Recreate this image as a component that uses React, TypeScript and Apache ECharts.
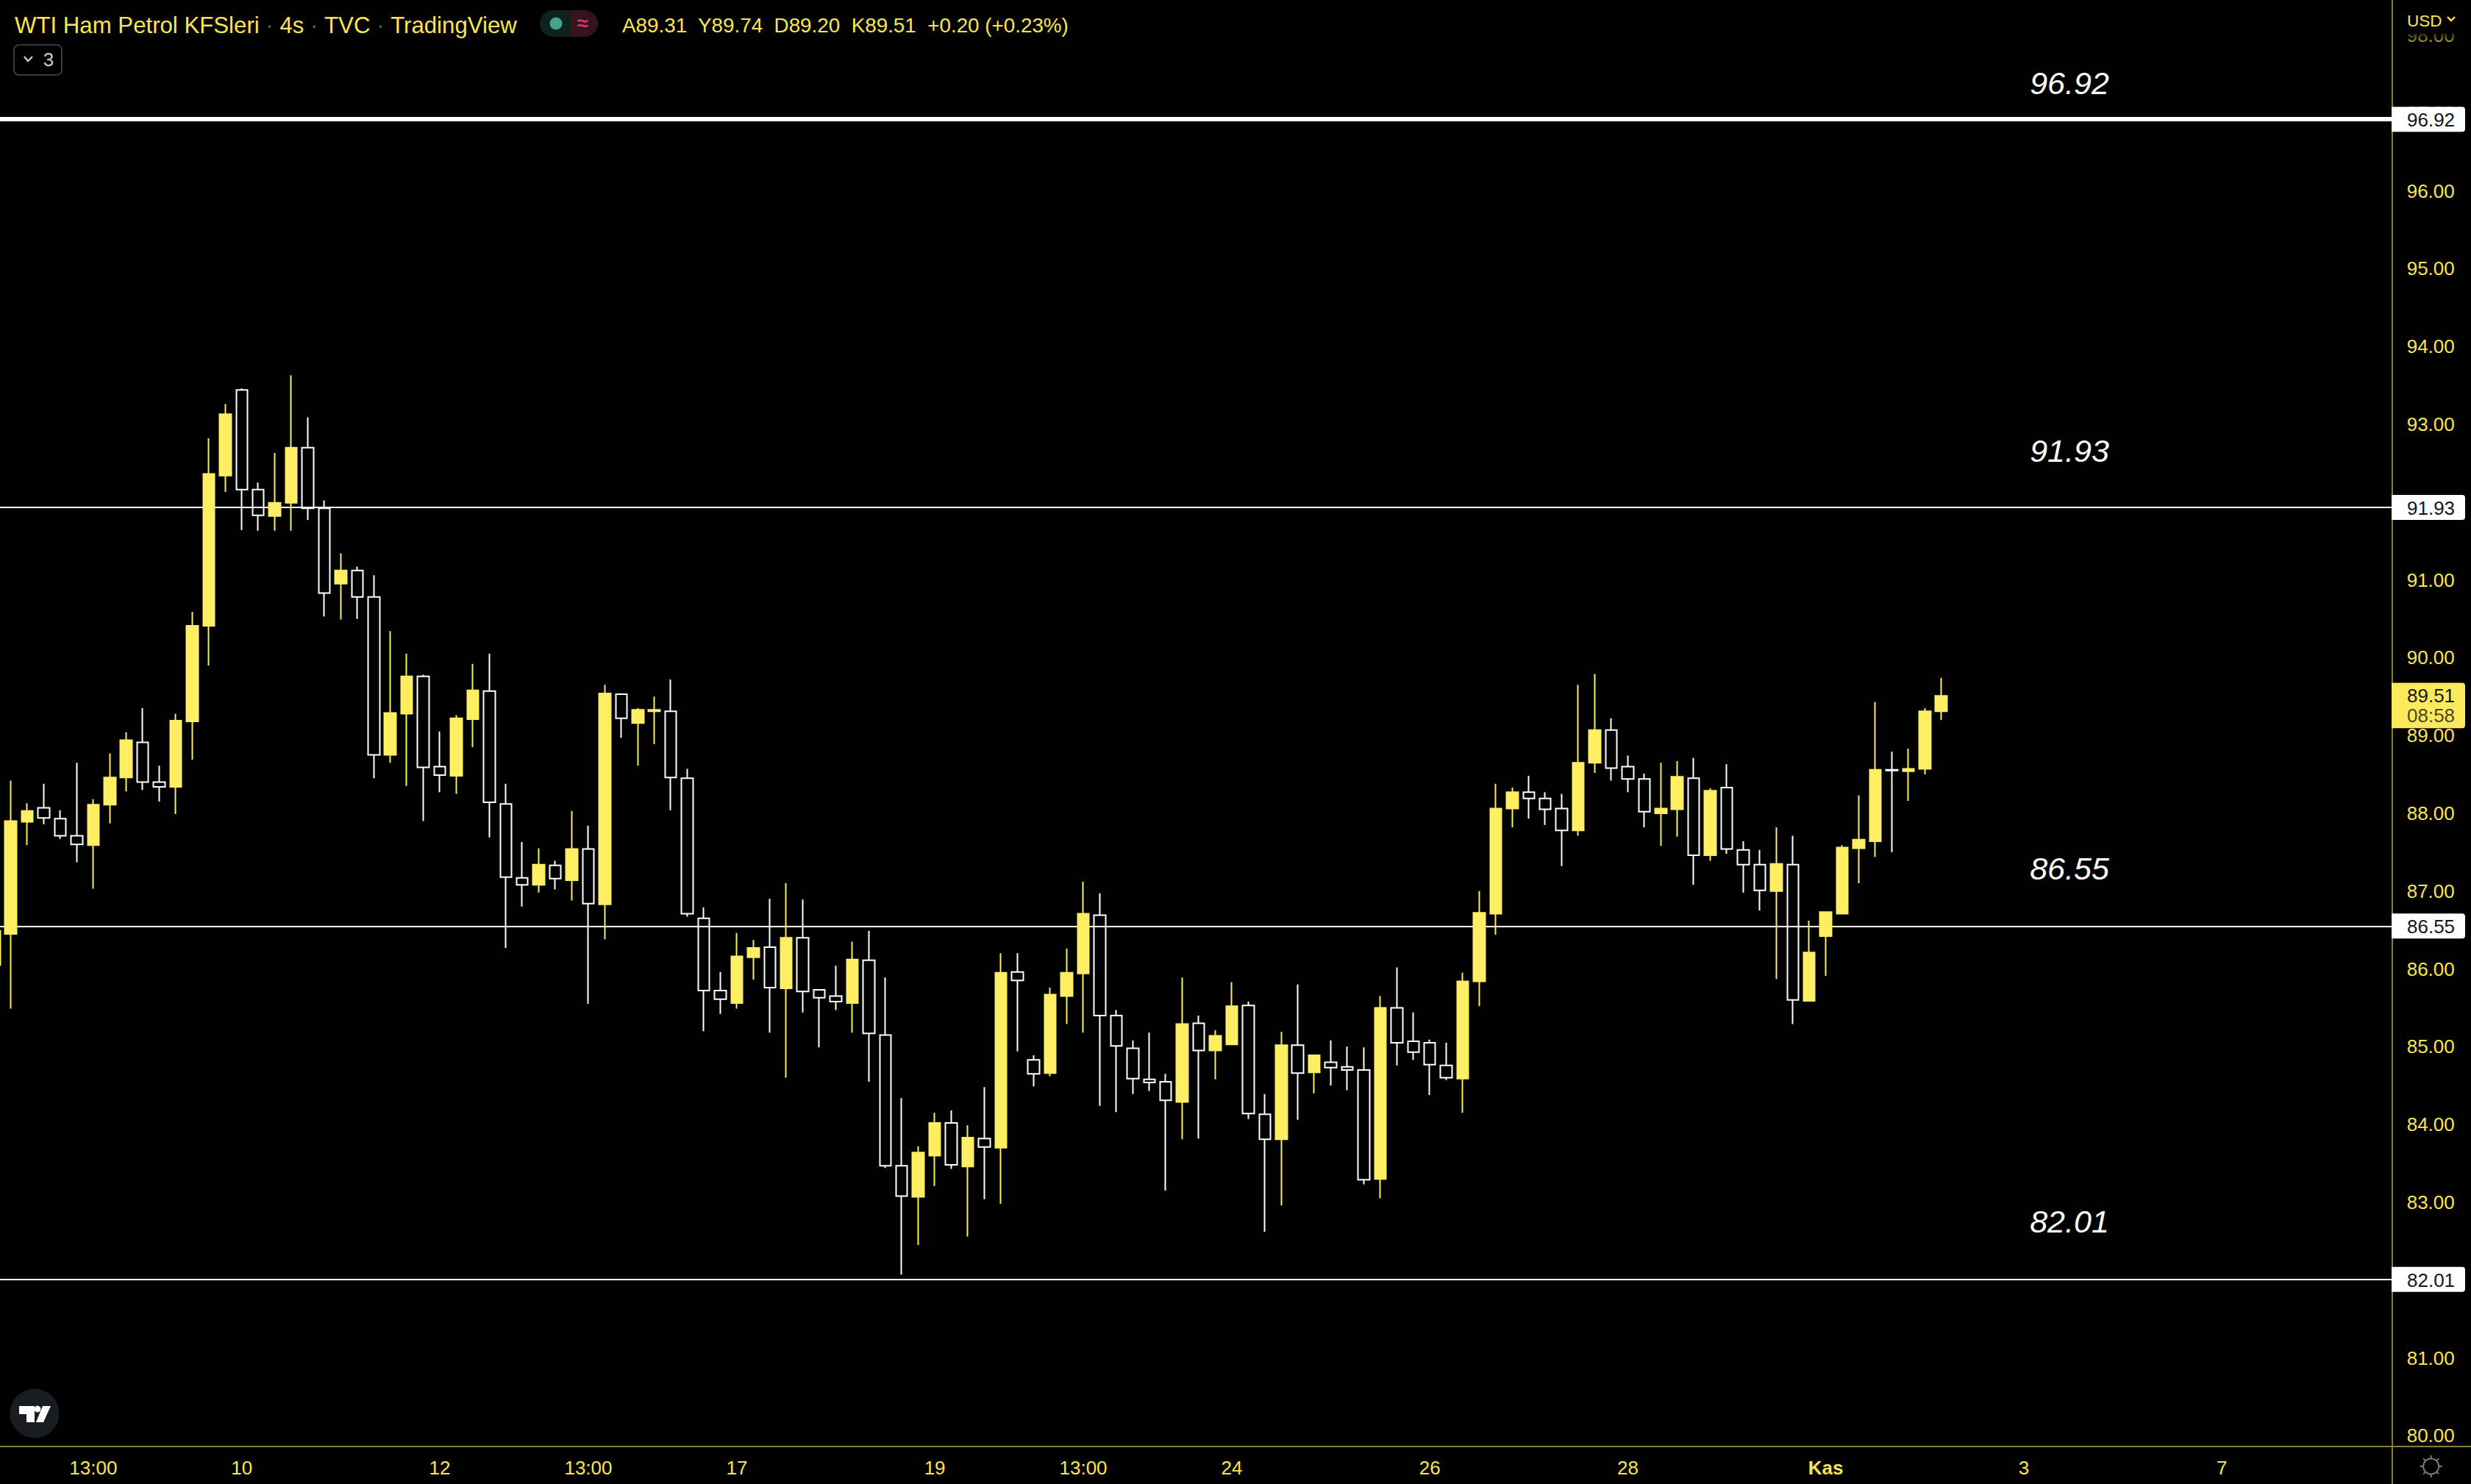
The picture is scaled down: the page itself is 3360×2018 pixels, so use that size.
import React, { useEffect, useRef } from "react";
import * as echarts from "echarts";

const opens = [86.05,86.45,87.89,88.07,87.93,87.71,87.59,88.11,88.46,88.91,88.40,88.34,89.18,90.41,92.34,93.44,92.16,91.82,91.99,92.70,91.92,90.95,91.12,90.78,88.75,89.28,89.76,88.60,88.48,89.21,89.57,88.12,
87.17,87.08,87.33,87.14,87.54,86.83,89.53,89.16,89.31,89.31,88.45,86.65,85.72,85.56,86.15,86.28,85.75,86.40,85.73,85.65,85.56,86.11,85.15,83.47,83.07,83.60,84.02,83.46,83.82,
83.70,85.96,84.83,84.66,85.65,85.94,86.69,85.40,84.98,84.58,84.55,84.29,85.30,84.95,85.03,85.53,84.13,83.81,85.02,84.67,84.80,84.74,84.70,83.30,85.50,85.07,85.05,84.76,84.59,
85.84,86.71,88.06,88.27,88.19,88.06,87.78,88.65,89.07,88.60,88.44,88.00,88.05,88.45,87.46,88.33,87.53,87.34,87.00,87.34,85.59,86.42,86.71,87.55,87.64,88.56,88.54,88.57,89.31];
const closes = [86.49,87.90,88.03,87.94,87.71,87.60,88.11,88.46,88.94,88.40,88.34,89.19,90.41,92.36,93.13,92.16,91.83,91.99,92.70,91.92,90.83,91.12,90.78,88.75,89.29,89.76,88.59,88.49,89.22,89.58,88.14,87.18,
87.08,87.34,87.16,87.54,86.84,89.54,89.22,89.33,89.33,88.46,86.71,85.72,85.61,86.16,86.27,85.76,86.40,85.71,85.63,85.58,86.12,85.17,83.47,83.08,83.64,84.02,83.48,83.83,83.71,
85.95,85.85,84.65,85.67,85.95,86.71,85.40,85.01,84.59,84.54,84.31,85.29,84.95,85.14,85.52,84.14,83.81,85.02,84.66,84.89,84.73,84.70,83.29,85.50,85.05,84.93,84.77,84.60,85.84,
86.72,88.06,88.27,88.19,88.05,87.78,88.65,89.07,88.58,88.44,88.02,88.06,88.47,87.46,88.29,87.54,87.34,87.01,87.35,85.60,86.21,86.73,87.56,87.66,88.56,88.55,88.57,89.31,89.51];
const lows = [85.90,85.49,87.59,87.86,87.67,87.37,87.03,87.87,88.28,88.30,88.15,87.99,88.69,89.90,92.13,91.64,91.63,91.63,91.63,91.77,90.53,90.49,90.50,88.45,88.65,88.35,87.90,88.27,88.25,88.85,87.69,86.27,
86.80,86.98,87.02,86.88,85.55,86.38,88.97,88.61,88.89,88.04,86.67,85.20,85.42,85.49,85.86,85.18,84.60,85.44,84.99,85.47,85.18,84.55,83.44,82.07,82.45,83.21,83.43,82.56,83.04,
82.98,84.94,84.49,84.62,85.29,85.18,84.24,84.16,84.39,84.43,83.15,83.81,83.82,84.58,85.03,84.07,82.62,82.96,84.06,84.40,84.50,84.44,83.23,83.05,84.76,84.83,84.38,84.57,84.15,
85.52,86.44,87.82,87.93,87.85,87.32,87.71,88.52,88.42,88.27,87.82,87.58,87.70,87.08,87.39,87.48,86.98,86.75,85.87,85.29,85.59,85.91,86.71,87.10,87.44,87.50,88.16,88.50,89.20];
const highs = [86.80,88.42,88.13,88.38,88.04,88.65,88.18,88.77,89.04,89.35,88.61,89.28,90.59,92.82,93.26,93.46,92.25,92.63,93.63,93.09,92.02,91.34,91.17,91.06,90.34,90.05,89.78,89.05,89.26,89.92,90.05,88.38,
87.63,87.55,87.39,88.03,87.84,89.65,89.54,89.35,89.50,89.72,88.57,86.79,85.96,86.46,86.37,86.90,87.10,86.89,85.73,86.04,86.35,86.49,85.89,84.34,83.72,84.15,84.18,83.99,84.48,
86.20,86.20,84.89,85.76,86.26,87.12,86.97,85.47,85.08,85.18,84.65,85.89,85.40,85.21,85.83,85.58,84.39,85.19,85.80,84.89,85.08,85.00,84.99,85.65,86.02,85.44,85.09,85.05,85.95,
87.00,88.38,88.33,88.48,88.27,88.25,89.65,89.79,89.22,88.74,88.51,88.65,88.67,88.71,88.32,88.63,87.64,87.53,87.82,87.71,86.62,86.74,87.59,88.23,89.43,88.79,88.83,89.35,89.74];

const barSlots = 146;
const timeLabels: [number, string][] = [[6,"13:00"],[15,"10"],[27,"12"],[36,"13:00"],[45,"17"],[57,"19"],[66,"13:00"],[75,"24"],[87,"26"],[99,"28"],[111,"Kas"],[123,"3"],[135,"7"]];
const levels = [96.92, 91.93, 86.55, 82.01];
const levelWidths = [6, 2, 2, 2];
const noteGaps = [49, 77, 78, 79];
const lastPrice = 89.51;
const countdown = "08:58";
const titleParts = ["WTI Ham Petrol KFSleri", "4s", "TVC", "TradingView"];
const ohlcText = "A89.31  Y89.74  D89.20  K89.51  +0.20 (+0.23%)";

const YELLOW = "#FDEE62";
const TEXT = "#FBE64E";
const AXIS = "#8A7C35";
const FONT = "'Liberation Sans', Arial, sans-serif";
const pxPerUnit = 105.8;
const pxPerBar = 22.436;

export default function App() {
  const ref = useRef<HTMLDivElement>(null);
  useEffect(() => {
    document.body.style.margin = "0";
    document.body.style.background = "#000";
    const chart = echarts.init(ref.current!, undefined, { renderer: "svg", width: 3360, height: 2018 });
    const categories: string[] = Array.from({ length: barSlots }, () => "");
    timeLabels.forEach(([i, t]) => { categories[i] = t; });
    const candleData = opens.map((o, i) => [o, closes[i], lows[i], highs[i]]);
    chart.setOption({
      animation: false,
      backgroundColor: "#000",
      grid: { left: -18.96, top: -57.9, width: pxPerBar * barSlots, height: pxPerUnit * 20, containLabel: false, outerBoundsMode: "none" },
      xAxis: {
        type: "category",
        data: categories,
        boundaryGap: true,
        offset: -91.1,
        axisLine: { onZero: false, lineStyle: { color: AXIS, width: 2 } },
        axisTick: { show: false },
        splitLine: { show: false },
        axisLabel: {
          interval: (_i: number, v: string) => v !== "",
          color: TEXT,
          fontFamily: FONT,
          fontSize: 26,
          margin: 16,
          formatter: (v: string) => (v === "Kas" ? "{b|Kas}" : v),
          rich: { b: { fontFamily: FONT, fontSize: 26, fontWeight: "bold", color: TEXT } },
        },
      },
      yAxis: {
        type: "value",
        position: "right",
        min: 79,
        max: 99,
        interval: 1,
        offset: -4,
        scale: true,
        axisLine: { show: true, onZero: false, lineStyle: { color: AXIS, width: 2 } },
        axisTick: { show: false },
        splitLine: { show: false },
        axisLabel: { color: TEXT, fontFamily: FONT, fontSize: 26, margin: 20, showMinLabel: false, showMaxLabel: false, formatter: (v: number) => (v === 79 || v === 99 ? "" : v.toFixed(2)) },
      },
      series: [
        {
          type: "candlestick",
          data: candleData,
          barWidth: 16,
          z: 2,
          clip: true,
          itemStyle: { color: YELLOW, color0: "rgba(0,0,0,0)", borderColor: YELLOW, borderColor0: "#fff", borderWidth: 2 },
          markLine: {
            silent: true,
            z: 1,
            symbol: "none",
            label: { show: false },
            data: levels.map((v, i) => ({ yAxis: v, lineStyle: { color: "#fff", width: levelWidths[i], type: "solid" } })),
          },
        },
      ],
    });

    const py = (v: number) => chart.convertToPixel({ yAxisIndex: 0 }, v) as number;
    const t = (text: string, x: number, y: number, fill: string, size: number, align = "left", extra: any = {}) => ({
      type: "text", z: 20, x, y,
      style: { text, fill, font: `${extra.italic ? "italic " : ""}${extra.bold ? "bold " : ""}${size}px ${FONT}`, textAlign: align, textVerticalAlign: "middle" },
    });
    const els: any[] = [];
    // axis extensions
    els.push({ type: "line", z: 6, shape: { x1: 3252.7, y1: 1967, x2: 3360, y2: 1967 }, style: { stroke: AXIS, lineWidth: 2 } });
    // top fade over the price scale
    els.push({ type: "rect", z: 8, shape: { x: 3254, y: 0, width: 106, height: 64 },
      style: { fill: new echarts.graphic.LinearGradient(0, 0, 0, 1, [
        { offset: 0, color: "rgba(0,0,0,1)" }, { offset: 0.7, color: "rgba(0,0,0,1)" }, { offset: 0.72, color: "rgba(0,0,0,0.8)" }, { offset: 1, color: "rgba(0,0,0,0)" },
      ]) } });
    els.push(t("USD", 3273, 28, TEXT, 22.5));
    els.push({ type: "polyline", z: 20, shape: { points: [[3328, 23], [3333, 28], [3338, 23]] }, style: { stroke: TEXT, lineWidth: 2.4, fill: "none" } });
    // level badges and notes
    levels.forEach((v, i) => {
      const y = py(v);
      els.push({ type: "rect", z: 12, shape: { x: 3252, y: y - 17, width: 100, height: 34, r: [0, 4, 4, 0] }, style: { fill: "#fff" } });
      els.push(t(v.toFixed(2), 3273, y + 1, "#131722", 26));
      els.push(t(v.toFixed(2), 2814, y - noteGaps[i], "#fff", 43, "center", { italic: true }));
    });
    // last price badge
    const ly = py(lastPrice);
    els.push({ type: "rect", z: 12, shape: { x: 3252, y: ly - 17.6, width: 100, height: 61.6, r: [0, 4, 4, 0] }, style: { fill: "#FDE95C" } });
    els.push(t(lastPrice.toFixed(2), 3273, ly, "#131722", 26));
    els.push(t(countdown, 3273, ly + 27, "#4c4820", 26));
    // header
    els.push({
      type: "text", z: 20, x: 20, y: 34,
      style: {
        text: titleParts.map((p) => `{t|${p}}`).join("{d| · }"),
        textVerticalAlign: "middle",
        rich: { t: { fill: TEXT, font: `31.2px ${FONT}` }, d: { fill: "#5d606b", font: `31.2px ${FONT}` } },
      },
    });
    els.push({ type: "rect", z: 18, shape: { x: 734, y: 14, width: 41, height: 36, r: [18, 0, 0, 18] }, style: { fill: "#0f211e" } });
    els.push({ type: "rect", z: 18, shape: { x: 775, y: 14, width: 38, height: 36, r: [0, 18, 18, 0] }, style: { fill: "#33141d" } });
    els.push({ type: "circle", z: 20, shape: { cx: 756, cy: 32, r: 8.5 }, style: { fill: "#42A38A" } });
    els.push(t("≈", 792, 31, "#D6316E", 28, "center", { bold: true }));
    els.push(t(ohlcText, 846, 34, TEXT, 27.8));
    els.push({ type: "rect", z: 18, shape: { x: 19, y: 61, width: 65, height: 41, r: 7 }, style: { fill: "#000", stroke: "#363A45", lineWidth: 2 } });
    els.push({ type: "polyline", z: 20, shape: { points: [[33, 77], [38, 83], [44, 77]] }, style: { stroke: "#C9CBD1", lineWidth: 2.4, fill: "none" } });
    els.push(t("3", 66, 81, "#C9CBD1", 26, "center"));
    // TradingView badge
    els.push({ type: "circle", z: 20, shape: { cx: 47, cy: 1922, r: 33.5 }, style: { fill: "#1A1C24" } });
    els.push({ type: "polygon", z: 21, shape: { points: [[26, 1912], [47, 1912], [47, 1934], [36, 1934], [36, 1923], [26, 1923]] }, style: { fill: "#fff" } });
    els.push({ type: "polygon", z: 21, shape: { points: [[69, 1912], [59, 1934], [49, 1934], [58, 1912]] }, style: { fill: "#fff" } });
    els.push({ type: "circle", z: 21, shape: { cx: 51, cy: 1916, r: 4.4 }, style: { fill: "#fff" } });
    // settings gear
    const gx = 3305.7, gy = 1994;
    els.push({ type: "circle", z: 20, shape: { cx: gx, cy: gy, r: 10.5 }, style: { fill: "none", stroke: "#787B86", lineWidth: 2 } });
    for (let k = 0; k < 8; k++) {
      const a = (k * Math.PI) / 4;
      els.push({ type: "line", z: 20, shape: { x1: gx + 10.5 * Math.cos(a), y1: gy + 10.5 * Math.sin(a), x2: gx + 15 * Math.cos(a), y2: gy + 15 * Math.sin(a) }, style: { stroke: "#787B86", lineWidth: 2 } });
    }
    chart.setOption({ graphic: { elements: els } });
    return () => chart.dispose();
  }, []);
  return <div ref={ref} style={{ position: "absolute", left: 0, top: 0, width: 3360, height: 2018 }} />;
}
